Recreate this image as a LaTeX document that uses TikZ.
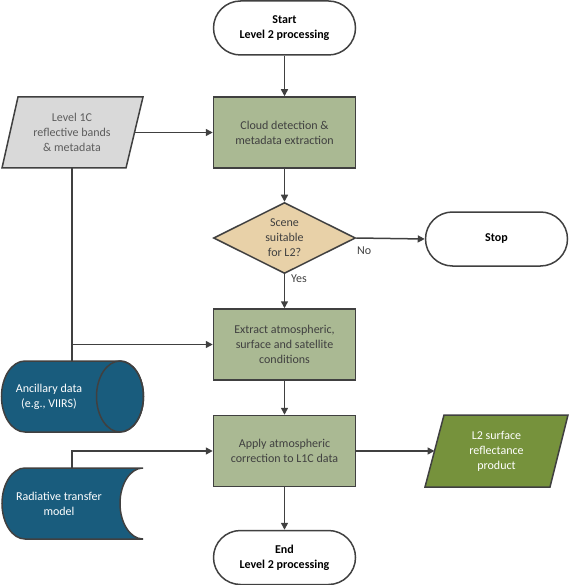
\documentclass[tikz,border=0pt]{standalone}
\usepackage{fontspec}
\setmainfont{Carlito}
\usetikzlibrary{arrows.meta,shapes.geometric}
\definecolor{lineC}{HTML}{404040}
\definecolor{boxG}{HTML}{AAB993}
\definecolor{decC}{HTML}{E8D1A8}
\definecolor{blueC}{HTML}{195C7D}
\definecolor{prodG}{HTML}{76923C}
\definecolor{grayC}{HTML}{D9D9D9}
\definecolor{txtG}{HTML}{404040}
\tikzset{
  base/.style={font=\fontsize{12}{15}\selectfont, align=center, inner sep=0pt},
  procbox/.style={base, draw=lineC, line width=1.5pt, fill=boxG, text=txtG, minimum width=142pt, minimum height=71pt},
  term/.style={base, draw=lineC, line width=1.5pt, fill=white, font=\fontsize{12}{15}\selectfont\bfseries, minimum width=142pt, minimum height=54pt, rounded corners=27pt},
  decision/.style={draw=lineC, line width=1.5pt, fill=decC, diamond, minimum width=142pt, minimum height=71pt, inner sep=0pt},
  shapeline/.style={draw=lineC, line width=1.5pt},
  conn/.style={draw=lineC, line width=1.5pt, -{Triangle[length=7pt,width=7pt]}},
  plainconn/.style={draw=lineC, line width=1.5pt},
  lbl/.style={base, text=txtG, font=\fontsize{12}{14}\selectfont}
}
\begin{document}
\begin{tikzpicture}[x=1pt,y=1pt]
\useasboundingbox (0,0) rectangle (569,-585);
% shapes drawn directly
\path[shapeline, fill=grayC] (18,-97) -- (143,-97) -- (126,-168) -- (2,-168) -- cycle;
\path[shapeline, fill=prodG] (444,-415) -- (568,-415) -- (550,-487) -- (425,-487) -- cycle;
\path[shapeline, fill=blueC] (25,-361) -- (120,-361) arc[start angle=90,end angle=-90,x radius=23.5,y radius=35.5] -- (25,-432) arc[start angle=270,end angle=90,x radius=23.5,y radius=35.5] -- cycle;
\draw[shapeline] (120,-396.5) ellipse[x radius=23.5,y radius=35.5];
\path[shapeline, fill=blueC] (25,-468) -- (143,-468) arc[start angle=90,end angle=270,x radius=23,y radius=35.5] -- (25,-539) arc[start angle=270,end angle=90,x radius=23,y radius=35.5] -- cycle;
% nodes
\node[term] (start) at (284.5,-28) {Start\\Level 2 processing};
\node[procbox] (cloud) at (284.5,-132.5) {Cloud detection \&\\metadata extraction};
\node[base, text=txtG!85!white] (l1c) at (72,-132.5) {Level 1C\\reflective bands\\\& metadata};
\node[decision] (dec) at (284.5,-238) {};
\node[base, text=txtG] (dectxt) at (dec) {Scene\\suitable\\for L2?};
\node[term] (stop) at (496.5,-239) {Stop};
\node[procbox] (extract) at (284.5,-344.5) {Extract atmospheric,\\surface and satellite\\conditions};
\node[base, text=white] (anc) at (49,-396.5) {Ancillary data\\(e.g., VIIRS)};
\node[base, text=white] (rtm) at (59,-503.5) {Radiative transfer\\model};
\node[procbox] (apply) at (284.5,-451) {Apply atmospheric\\correction to L1C data};
\node[base, text=white] (prod) at (496.5,-451) {L2 surface\\reflectance\\product};
\node[term] (end) at (284.5,-557.5) {End\\Level 2 processing};
% coordinates
\coordinate (l1cR) at (134.5,-132.5);
\coordinate (l1cB) at (72,-168);
\coordinate (ancT) at (72,-361);
\coordinate (junc) at (72,-344.5);
\coordinate (rtmT) at (72,-468);
\coordinate (prodL) at (434.5,-451);
% connectors
\draw[conn] (start.south) -- (cloud.north);
\draw[conn] (l1cR) -- (cloud.west);
\draw[conn] (cloud.south) -- (dec.north);
\draw[conn] (dec.east) -- (stop.west);
\draw[conn] (dec.south) -- (extract.north);
\draw[plainconn] (l1cB) -- (ancT);
\draw[conn] (junc) -- (extract.west);
\draw[conn] (extract.south) -- (apply.north);
\draw[conn] (rtmT) |- (apply.west);
\draw[conn] (apply.east) -- (prodL);
\draw[conn] (apply.south) -- (end.north);
\node[lbl, anchor=west] (nolbl) at (357,-251) {No};
\node[lbl, anchor=west] (yeslbl) at (291,-279) {Yes};
\end{tikzpicture}
\end{document}
